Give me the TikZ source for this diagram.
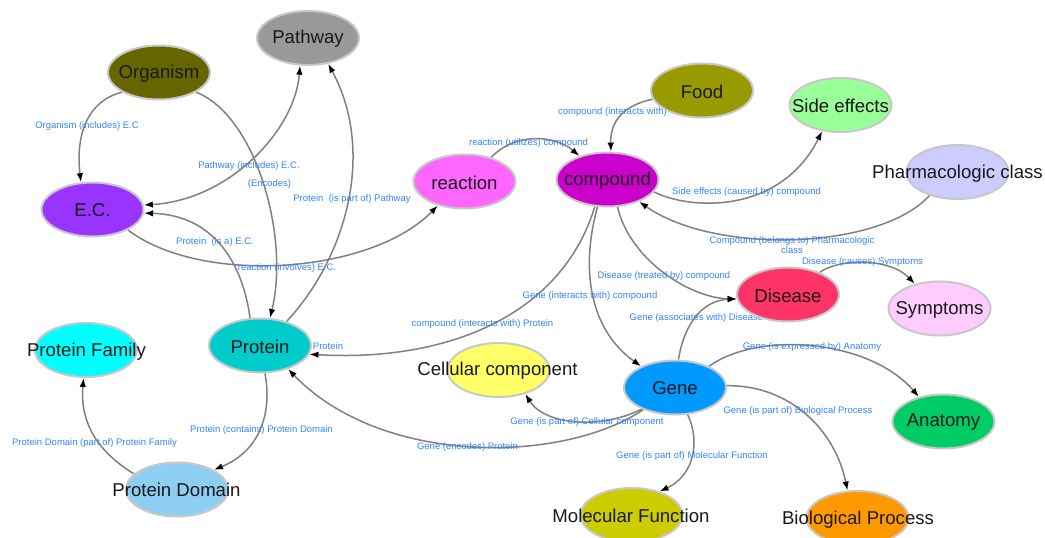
\documentclass[tikz,border=0pt]{standalone}
\usepackage{fontspec}
\setmainfont{Liberation Sans}
\usetikzlibrary{shapes.geometric,arrows.meta}
\definecolor{rimgray}{HTML}{C8C8C8}
\definecolor{linkgray}{HTML}{808080}
\definecolor{lblue}{HTML}{3385FF}
\definecolor{cPathway}{HTML}{999999}
\definecolor{cOrganism}{HTML}{666600}
\definecolor{cEC}{HTML}{9933FF}
\definecolor{cReaction}{HTML}{FF66FF}
\definecolor{cCompound}{HTML}{CC00CC}
\definecolor{cFood}{HTML}{999900}
\definecolor{cSide}{HTML}{99FF99}
\definecolor{cPharm}{HTML}{CCCCFF}
\definecolor{cDisease}{HTML}{FF3366}
\definecolor{cSymptoms}{HTML}{FFCCFF}
\definecolor{cProtein}{HTML}{00CCCC}
\definecolor{cFamily}{HTML}{00FFFF}
\definecolor{cCellular}{HTML}{FFFF66}
\definecolor{cGene}{HTML}{0099FF}
\definecolor{cAnatomy}{HTML}{00CC66}
\definecolor{cDomain}{HTML}{8ECEF2}
\definecolor{cMolecular}{HTML}{CCCC00}
\definecolor{cBiological}{HTML}{FF9900}
\pgfdeclarelayer{back}
\pgfsetlayers{back,main}
\tikzset{
  ent/.style={ellipse, draw=rimgray, line width=2pt, fill=#1,
    minimum width=102pt, minimum height=54pt, inner sep=0pt},
  ntext/.style={inner sep=0pt, text=black!90, font=\fontsize{18.6}{20}\selectfont},
  conn/.style={draw=linkgray, line width=1.5pt},
  arr/.style={-{Latex[length=9pt,width=6.5pt,color=black]}},
  twoway/.style={{Latex[length=9pt,width=6.5pt,color=black]}-{Latex[length=9pt,width=6.5pt,color=black]}},
  elabel/.style={inner sep=0pt, text=lblue, font=\fontsize{9.5}{10.5}\selectfont, align=center},
}
\begin{document}
\begin{tikzpicture}[x=1pt,y=-1pt]
\useasboundingbox (0,0) rectangle (1045,538);

% entities
\node[ent=cPathway]   (PW) at (308,38) {};
\node[ent=cOrganism]  (ORG) at (159,72.5) {};
\node[ent=cEC]        (EC) at (92.5,209.5) {};
\node[ent=cReaction]  (RX) at (464.5,181.5) {};
\node[ent=cCompound]  (CP) at (607.5,179.5) {};
\node[ent=cFood]      (FD) at (702,90.5) {};
\node[ent=cSide]      (SE) at (840.5,105) {};
\node[ent=cPharm]     (PC) at (957.5,172) {};
\node[ent=cDisease]   (DS) at (788,294.5) {};
\node[ent=cSymptoms]  (SY) at (939.5,308.5) {};
\node[ent=cProtein]   (PR) at (260,345.5) {};
\node[ent=cFamily]    (PF) at (86,350) {};
\node[ent=cCellular]  (CC) at (498.5,370) {};
\node[ent=cGene]      (GN) at (675,387.5) {};
\node[ent=cAnatomy]   (AN) at (943.5,421.5) {};
\node[ent=cDomain]    (PD) at (177,489.5) {};
\node[ent=cMolecular] (MF) at (631.5,515) {};
\node[ent=cBiological](BP) at (857.5,518) {};

% entity names
\node[ntext] (tPW)  at (308,39)      {Pathway};
\node[ntext] (tORG) at (159,73.5)    {Organism};
\node[ntext] (tEC)  at (92.5,210.5)  {E.C.};
\node[ntext] (tRX)  at (464.5,182.5) {reaction};
\node[ntext] (tCP)  at (607.5,180.5) {compound};
\node[ntext] (tFD)  at (702,91.5)    {Food};
\node[ntext] (tSE)  at (840.5,106)   {Side effects};
\node[ntext] (tPC)  at (957.5,173.5) {Pharmacologic class};
\node[ntext] (tDS)  at (788,295.5)   {Disease};
\node[ntext] (tSY)  at (939.5,309.5) {Symptoms};
\node[ntext] (tPR)  at (260,346.5)   {Protein};
\node[ntext] (tPF)  at (86.5,351.5)  {Protein Family};
\node[ntext] (tCC)  at (497.5,371)   {Cellular component};
\node[ntext] (tGN)  at (675,388.5)   {Gene};
\node[ntext] (tAN)  at (943.5,422.5) {Anatomy};
\node[ntext] (tPD)  at (176.5,490)   {Protein Domain};
\node[ntext] (tMF)  at (631,515.5)   {Molecular Function};
\node[ntext] (tBP)  at (858,519.5)   {Biological Process};

\begin{pgfonlayer}{back}
\fill[white] (0,0) rectangle (1045,538);

% relations
\draw[conn,arr] (ORG.208) .. controls (84,102) and (76,140) .. (EC.113);
\draw[conn,arr] (ORG.332) .. controls (255,115) and (290,235) .. (PR.70);
\draw[conn,twoway] (EC.5) .. controls (230,200) and (295,130) .. (PW.254);
\draw[conn,arr] (PR.42) .. controls (348,255) and (375,150) .. (PW.308);
\draw[conn,arr] (PR.110) .. controls (243,265) and (215,215) .. (EC.356);
\draw[conn,arr] (EC.330) .. controls (200,285) and (370,275) .. (RX.222);
\draw[conn,arr] (RX.42) .. controls (515,132) and (555,135) .. (CP.140);
\draw[conn,arr] (FD.190) .. controls (625,105) and (610,120) .. (CP.83);
\draw[conn,arr] (CP.345) .. controls (690,210) and (780,215) .. (SE.235);
\draw[conn,arr] (PC.220) .. controls (880,250) and (715,255) .. (CP.325);
\draw[conn,arr] (CP.290) .. controls (630,260) and (690,298) .. (DS.185);
\draw[conn,arr] (CP.250) .. controls (580,270) and (590,330) .. (GN.148);
\draw[conn,arr] (CP.245) .. controls (560,320) and (440,362) .. (PR.350);
\draw[conn,arr] (GN.83) .. controls (685,320) and (705,300) .. (DS.185);
\draw[conn,arr] (DS.35) .. controls (840,258) and (890,258) .. (SY.135);
\draw[conn,arr] (GN.32) .. controls (760,330) and (870,340) .. (AN.135);
\draw[conn,arr] (GN.2) .. controls (790,385) and (835,430) .. (BP.110);
\draw[conn,arr] (GN.295) .. controls (700,440) and (695,475) .. (MF.40);
\draw[conn,arr] (GN.213) .. controls (600,430) and (545,425) .. (CC.318);
\draw[conn,arr] (GN.215) .. controls (560,465) and (380,465) .. (PR.320);
\draw[conn,arr] (PR.280) .. controls (272,410) and (262,450) .. (PD.28);
\draw[conn,arr] (PD.160) .. controls (95,450) and (80,420) .. (PF.265);

% relation names
\node[elabel] (lORGEC) at (87,126)    {Organism (includes) E.C};
\node[elabel] (lORGPR) at (269.5,184) {(Encodes)};
\node[elabel] (lPWEC)  at (249,166)   {Pathway (includes) E.C.};
\node[elabel] (lPRPW)  at (352,199)   {Protein~ (is part of) Pathway};
\node[elabel] (lPREC)  at (215,242)   {Protein~ (is a) E.C.};
\node[elabel] (lRXEC)  at (287,268)   {reaction (involves) E.C.};
\node[elabel] (lRXCP)  at (528.5,143) {reaction (utilizes) compound};
\node[elabel] (lFDCP)  at (612.5,112) {compound (interacts with)};
\node[elabel] (lSECP)  at (746.5,192) {Side effects (caused by) compound};
\node[elabel] (lPCCP)  at (792,245)   {Compound (belongs to) Pharmacologic\\class};
\node[elabel] (lDSSY)  at (862.5,262) {Disease (causes) Symptoms};
\node[elabel] (lDSCP)  at (664,276)   {Disease (treated by) compound};
\node[elabel] (lGNCP)  at (590,296)   {Gene (interacts with) compound};
\node[elabel] (lGNDS)  at (696.5,318) {Gene (associates with) Disease};
\node[elabel] (lCPPR)  at (482.5,324) {compound (interacts with) Protein};
\node[elabel] (lPRx)   at (328,346)   {Protein};
\node[elabel] (lGNAN)  at (812,347)   {Gene (is expressed by) Anatomy};
\node[elabel] (lGNBP)  at (798,411)   {Gene (is part of) Biological Process};
\node[elabel] (lGNCC)  at (587,422)   {Gene (is part of) Cellular component};
\node[elabel] (lGNPR)  at (467.5,447) {Gene (encodes) Protein};
\node[elabel] (lGNMF)  at (692,456)   {Gene (is part of) Molecular Function};
\node[elabel] (lPRPD)  at (261.5,430) {Protein (contains) Protein Domain};
\node[elabel] (lPDPF)  at (94.5,443)  {Protein Domain (part of) Protein Family};
\end{pgfonlayer}
\end{tikzpicture}
\end{document}
